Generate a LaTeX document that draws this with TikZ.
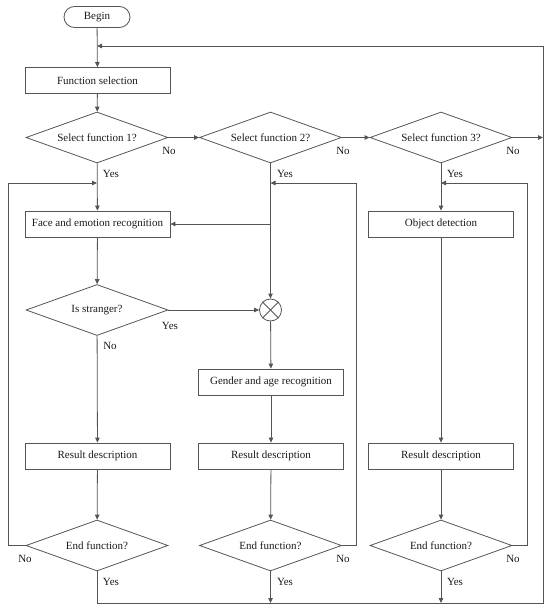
\documentclass[tikz,border=0pt]{standalone}
\usepackage{fontspec}
\setmainfont{Liberation Serif}
\usetikzlibrary{shapes.geometric,arrows.meta}
\definecolor{lc}{HTML}{555555}
\definecolor{tc}{HTML}{1A1A1A}
\begin{document}
\begin{tikzpicture}[x=1pt,y=-1pt,
  txt/.style={font=\fontsize{11}{13}\selectfont, text=tc},
  line/.style={draw=lc, line width=0.8pt},
  arr/.style={line, -{Triangle[length=5pt,width=4.5pt]}},
  terminal/.style={txt, draw=lc, line width=0.8pt, rectangle, rounded corners=10.5pt, minimum width=66pt, minimum height=21pt, inner sep=0pt},
  procbox/.style={txt, draw=lc, line width=0.8pt, rectangle, minimum width=145pt, minimum height=26pt, inner sep=0pt},
  decision/.style={txt, draw=lc, line width=0.8pt, diamond, aspect=2.8, minimum width=142pt, minimum height=51pt, inner sep=0pt},
  lbl/.style={txt, inner sep=0pt}]
\useasboundingbox (0,0) rectangle (550,610);

% nodes
\node[terminal] (begin) at (97,17) {Begin};
\node[procbox] (fsel) at (97.5,80.5) {Function selection};
\node[decision] (d1) at (97,137.5) {Select function 1?};
\node[decision] (d2) at (270.5,137.5) {Select function 2?};
\node[decision] (d3) at (441,137.5) {Select function 3?};
\node[procbox] (face) at (97.5,224) {Face and emotion recognition};
\node[procbox] (obj) at (441,224) {Object detection};
\node[decision] (str) at (97,310) {Is stranger?};
\node[circle, draw=lc, line width=0.8pt, minimum size=22pt, inner sep=0pt] (ox) at (270.5,310) {};
\node[procbox] (gen) at (271,382) {Gender and age recognition};
\node[procbox] (r1) at (97.5,456) {Result description};
\node[procbox] (r2) at (271,456) {Result description};
\node[procbox] (r3) at (441,456) {Result description};
\node[decision] (e1) at (97,545.5) {End function?};
\node[decision] (e2) at (270.5,545.5) {End function?};
\node[decision] (e3) at (441,545.5) {End function?};

% cross in circle
\draw[line] (ox.45) -- (ox.225);
\draw[line] (ox.135) -- (ox.315);

% helper coordinates
\coordinate (topL) at (97,46);
\coordinate (topR) at (543,46);
\coordinate (midR) at (543,137.5);
\coordinate (botL) at (97,603);
\coordinate (botR) at (543,603);
\coordinate (bot2) at (270.5,603);
\coordinate (bot3) at (441,603);
\coordinate (l1a) at (8,545.5);
\coordinate (l1b) at (8,183);
\coordinate (j1) at (97,183);
\coordinate (l2a) at (356,545.5);
\coordinate (l2b) at (356,183);
\coordinate (j2) at (270.5,183);
\coordinate (b2) at (270.5,224);
\coordinate (l3a) at (527,545.5);
\coordinate (l3b) at (527,183);
\coordinate (j3) at (441,183);

% main flow
\draw[arr] (begin) -- (fsel);
\draw[arr] (fsel) -- (d1);
\draw[arr] (d1) -- (d2);
\draw[arr] (d2) -- (d3);
\draw[arr] (d3) -- (midR);
\draw[arr] (d1) -- (face);
\draw[arr] (face) -- (str);
\draw[arr] (str) -- (r1);
\draw[arr] (r1) -- (e1);
\draw[arr] (str) -- (ox);
\draw[arr] (d2) -- (ox);
\draw[arr] (b2) -- (face.east);
\draw[arr] (ox) -- (gen);
\draw[arr] (gen) -- (r2);
\draw[arr] (r2) -- (e2);
\draw[arr] (d3) -- (obj);
\draw[arr] (obj) -- (r3);
\draw[arr] (r3) -- (e3);

% loops back
\draw[arr] (e1.west) -- (l1a) -- (l1b) -- (j1);
\draw[arr] (e2.east) -- (l2a) -- (l2b) -- (j2);
\draw[arr] (e3.east) -- (l3a) -- (l3b) -- (j3);

% end paths
\draw[arr] (e1.south) -- (botL) -- (botR) -- (topR) -- (topL);
\draw[arr] (e2.south) -- (bot2);
\draw[arr] (e3.south) -- (bot3);

% labels
\node[lbl] at (169,151) {No};
\node[lbl] at (343,151) {No};
\node[lbl] at (513,151) {No};
\node[lbl] at (111,174) {Yes};
\node[lbl] at (285,174) {Yes};
\node[lbl] at (455,174) {Yes};
\node[lbl] at (170,326) {Yes};
\node[lbl] at (110,346) {No};
\node[lbl] at (25,559) {No};
\node[lbl] at (343,559) {No};
\node[lbl] at (513,559) {No};
\node[lbl] at (111,582) {Yes};
\node[lbl] at (285,582) {Yes};
\node[lbl] at (455,582) {Yes};
\end{tikzpicture}
\end{document}
